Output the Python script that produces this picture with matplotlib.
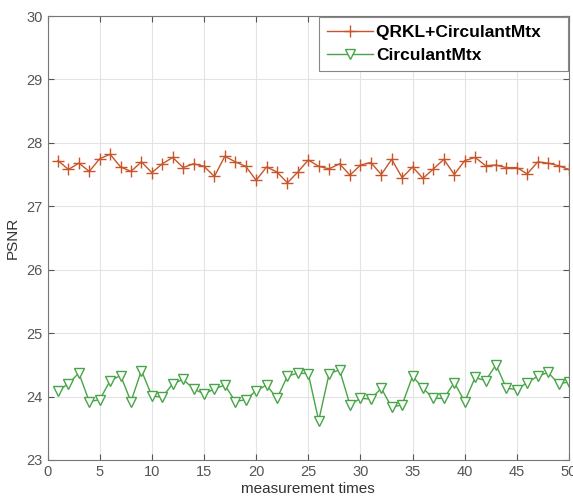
import numpy as np
from matplotlib import pyplot as plt

plt.rcParams['font.family'] = ['Liberation Sans', 'DejaVu Sans']

times = np.arange(1, 51)

qrkl_psnr = [27.72, 27.58, 27.68, 27.55, 27.75, 27.82, 27.62, 27.55, 27.70, 27.53,
             27.67, 27.77, 27.61, 27.67, 27.63, 27.47, 27.79, 27.70, 27.63, 27.41,
             27.62, 27.54, 27.37, 27.54, 27.73, 27.63, 27.59, 27.67, 27.49, 27.65,
             27.69, 27.50, 27.74, 27.45, 27.62, 27.44, 27.59, 27.74, 27.50, 27.72,
             27.77, 27.64, 27.65, 27.61, 27.61, 27.51, 27.70, 27.68, 27.64, 27.58]

circ_psnr = [24.09, 24.20, 24.37, 23.92, 23.95, 24.25, 24.33, 23.92, 24.41, 24.01,
             23.99, 24.20, 24.27, 24.12, 24.04, 24.12, 24.18, 23.92, 23.95, 24.09,
             24.18, 23.97, 24.32, 24.37, 24.36, 23.62, 24.36, 24.42, 23.87, 23.97,
             23.96, 24.13, 23.83, 23.87, 24.32, 24.13, 23.97, 23.97, 24.22, 23.92,
             24.30, 24.25, 24.50, 24.13, 24.11, 24.22, 24.32, 24.38, 24.20, 24.23]

fig = plt.figure(figsize=(5.73, 5.01), dpi=100)
ax = fig.add_axes([0.083, 0.082, 0.910, 0.886])

ax.plot(times, qrkl_psnr, color='#C8552A', marker='+', markersize=8,
        markeredgewidth=1, linewidth=1, label='QRKL+CirculantMtx    ')
ax.plot(times, circ_psnr, color='#47A547', marker='v', markersize=7,
        markerfacecolor='white', markeredgecolor='#47A547', linewidth=1,
        label='CirculantMtx')

ax.set_xlim(0, 50)
ax.set_ylim(23, 30)
ax.set_xticks(np.arange(0, 51, 5))
ax.set_yticks(np.arange(23, 31, 1))
ax.grid(True, color='#E3E3E3', linewidth=0.8)
ax.set_axisbelow(True)
ax.tick_params(direction='in', colors='#555555', labelsize=10.5, length=4,
               top=True, right=True, labeltop=False, labelright=False)
for s in ax.spines.values():
    s.set_color('#777777')

ax.set_xlabel('measurement times', fontsize=11, color='#333333', labelpad=2)
ax.set_ylabel('PSNR', fontsize=11, color='#333333', labelpad=5)

leg = ax.legend(loc='upper right', fancybox=False, edgecolor='#888888',
                prop={'weight': 'bold', 'size': 12.5}, borderaxespad=0.05,
                handlelength=2.7, labelspacing=0.45, borderpad=0.45,
                handletextpad=0.15, framealpha=1)
leg.get_frame().set_linewidth(0.8)

fig.savefig('out.png', dpi=100)
